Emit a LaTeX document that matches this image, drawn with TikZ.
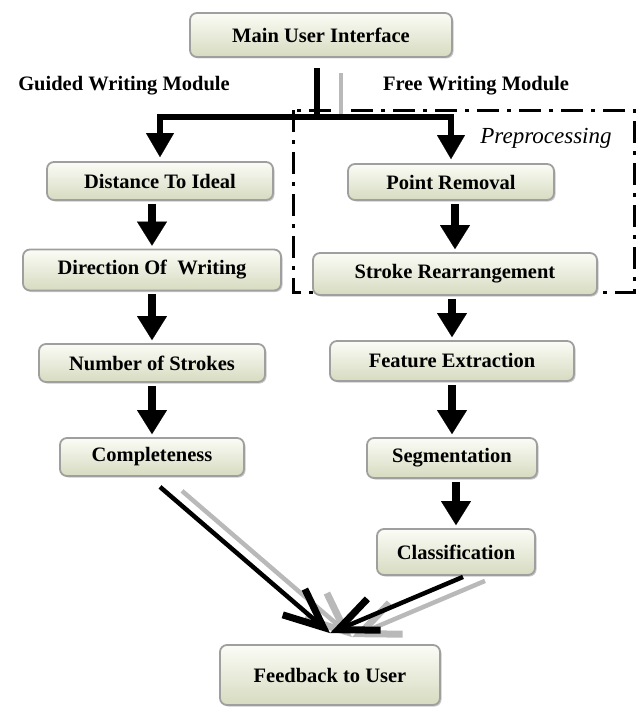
\documentclass[tikz,border=0pt]{standalone}
\usepackage{fontspec}
\setmainfont{Liberation Serif}
\usetikzlibrary{positioning, arrows.meta, shadows}
\definecolor{boxtop}{RGB}{251,252,246}
\definecolor{boxbot}{RGB}{214,219,192}

\begin{document}
\begin{tikzpicture}[x=1pt, y=-1pt,
    procnode/.style={rectangle, rounded corners=7pt, draw=gray!75, line width=1.8pt,
        top color=boxtop, bottom color=boxbot, inner sep=0pt,
        drop shadow={shadow xshift=1.5pt, shadow yshift=-1.5pt, fill=gray!70, opacity=0.6},
        font=\fontsize{20.5}{24}\selectfont\bfseries},
    headtext/.style={font=\fontsize{20.5}{24}\selectfont\bfseries},
    flow/.style={line width=8pt, -{Triangle[length=24pt, width=30pt, line width=0.1pt]},
        shorten <=3pt, shorten >=3pt},
    split/.style={line width=5.5pt, -{Triangle[length=24pt, width=28pt, line width=0.1pt]},
        shorten >=4pt},
    merge/.style={line width=4.5pt, -{Straight Barb[length=39pt, width=34pt, line width=7pt]}},
    prepframe/.style={line width=3pt, dash pattern=on 22pt off 8pt on 4pt off 8pt},
]
\useasboundingbox (0,0) rectangle (638,709);

% top
\node[procnode, minimum width=262pt, minimum height=44pt] (main) at (321,35) {Main User Interface};
\node[headtext] (guided) at (124,86) {Guided Writing Module};
\node[headtext] (free) at (476,86) {Free Writing Module};

% preprocessing frame
\draw[prepframe] (293,110) rectangle (634,292);
\node[font=\fontsize{23}{26}\selectfont\itshape] (preplabel) at (546,138) {Preprocessing};

% guided writing column
\node[procnode, minimum width=226pt, minimum height=38pt] (distideal) at (160,181) {Distance To Ideal};
\node[procnode, minimum width=258pt, minimum height=41pt] (direction) at (152,270) {Direction Of~ Writing};
\node[procnode, minimum width=226pt, minimum height=38pt] (strokes) at (152,363) {Number of Strokes};
\node[procnode, minimum width=184pt, minimum height=38pt] (complete) at (152,457) {Completeness};

% free writing column
\node[procnode, minimum width=206pt, minimum height=36pt] (removal) at (451,182) {Point Removal};
\node[procnode, minimum width=284pt, minimum height=42pt] (rearrange) at (455,274) {Stroke Rearrangement};
\node[procnode, minimum width=244pt, minimum height=40pt] (feature) at (452,361) {Feature Extraction};
\node[procnode, minimum width=170pt, minimum height=40pt] (segment) at (452,458) {Segmentation};
\node[procnode, minimum width=158pt, minimum height=46pt] (classify) at (456,552) {Classification};

% bottom
\node[procnode, minimum width=220pt, minimum height=60pt] (feedback) at (330,675) {Feedback to User};

% split from the main interface
\coordinate (fork) at (317,117);
\draw[gray!55, line width=4pt] ([xshift=20pt,yshift=-15pt]main.south) -- ++(0,41);
\draw[line width=5.5pt] (main.south -| fork) ++(0,10) -- (fork);
\draw[split] (fork) -| (distideal.north);
\draw[split] (fork) -| (removal.north);

% steps
\foreach \a/\b in {distideal/direction, direction/strokes, strokes/complete,
    removal/rearrange, rearrange/feature, feature/segment, segment/classify}
    \draw[flow] (\b.north |- \a.south) -- (\b.north);

% into the feedback box
\coordinate (meet) at ([yshift=11pt]feedback.north);
\draw[merge, gray!55] ([xshift=30pt,yshift=-14pt]complete.south) -- ([xshift=22pt,yshift=-4pt]meet);
\draw[merge, gray!55] ([xshift=29pt,yshift=-5pt]classify.south) -- ([xshift=22pt,yshift=-4pt]meet);
\draw[merge] ([xshift=8pt,yshift=-10pt]complete.south) -- (meet);
\draw[merge] ([xshift=7pt,yshift=-1pt]classify.south) -- (meet);
\end{tikzpicture}
\end{document}
